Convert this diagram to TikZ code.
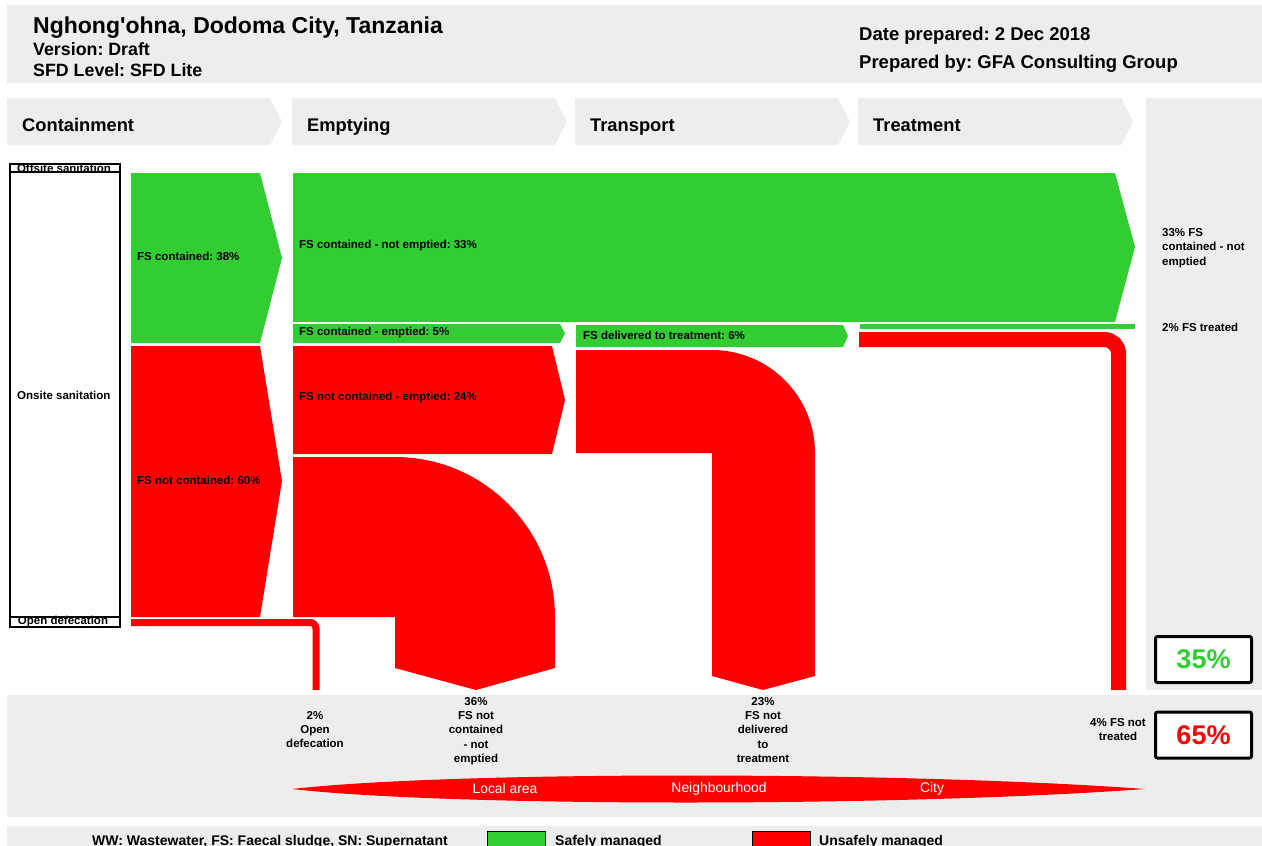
\documentclass[tikz,border=0pt]{standalone}
\usepackage{fontspec}
\setmainfont{Liberation Sans}
\usetikzlibrary{positioning}
\definecolor{sfdgreen}{RGB}{50,205,50}
\definecolor{sfdred}{RGB}{255,0,0}
\definecolor{sfdgray}{RGB}{237,237,237}
\frenchspacing

\begin{document}
\begin{tikzpicture}[
                x=1pt, y=-1pt,
                lbl/.style={font=\fontsize{11.5}{14.3}\selectfont\bfseries, inner sep=0pt},
                flowlbl/.style={lbl, anchor=west},
                head/.style={font=\fontsize{18.5}{21}\selectfont\bfseries, inner sep=0pt, anchor=base west},
                stagelbl/.style={head, font=\fontsize{18.3}{21}\selectfont\bfseries},
                band/.style={fill=sfdgray},
                srcbox/.style={draw=black, line width=1.2pt},
                total/.style={draw=black, line width=3pt, rounded corners=2pt, fill=white, minimum width=96pt, minimum height=46pt, inner sep=0pt, font=\fontsize{27}{30}\selectfont\bfseries},
                place/.style={text=white, inner sep=0pt, font=\fontsize{13.9}{16}\selectfont},
                legend/.style={lbl, font=\fontsize{14}{16}\selectfont\bfseries},
            ]
            \useasboundingbox (0,0) rectangle (1262,846);

            % header
            \fill[band] (7,5) rectangle (1262,83);
            \node[head, font=\fontsize{23}{26}\selectfont\bfseries] (title) at (33,33) {Nghong\textquotesingle ohna, Dodoma City, Tanzania};
            \node[head, font=\fontsize{17.8}{20}\selectfont\bfseries] (ver) at (33,55) {Version: Draft};
            \node[head, font=\fontsize{17.8}{20}\selectfont\bfseries] (lvl) at (33,76) {SFD Level: SFD Lite};
            \node[head] (date) at (859,40) {Date prepared: 2 Dec 2018};
            \node[head] (prep) at (859,68) {Prepared by: GFA Consulting Group};

            % stages
            \foreach \x/\stagename [count=\i] in {7/Containment,292/Emptying,575/Transport,858/Treatment} {
                \fill[band] (\x,98) -- ++(263,0) -- ++(12,23.5) -- ++(-12,23.5) -- ++(-263,0) -- cycle;
                \node[stagelbl] (stage\i) at (\x+15,131) {\stagename};
            }
            \fill[band] (1146,98) rectangle (1262,690);
            \fill[band] (7,695) rectangle (1262,817);
            \fill[band] (7,826) rectangle (1262,846);

            % sources
            \draw[srcbox] (10,164) rectangle (120,172);
            \draw[srcbox] (10,172) rectangle (120,617);
            \draw[srcbox] (10,617) rectangle (120,627);
            \node[lbl] (offs) at (64,168) {Offsite sanitation};
            \node[lbl, anchor=west] (onsite) at (17,395) {Onsite sanitation};
            \node[lbl] (opendef) at (63,622) {Open defecation};

            % containment
            \fill[sfdgreen] (131,173) -- (260,173) -- (282,258) -- (260,343) -- (131,343) -- cycle;
            \fill[sfdred] (131,346) -- (260,346) -- (282,481) -- (260,617) -- (131,617) -- cycle;
            \node[flowlbl] (contd) at (137,256) {FS contained: 38\%};
            \node[flowlbl] (ncontd) at (137,480) {FS not contained: 60\%};
            \draw[sfdred, line width=7pt, rounded corners=6pt] (131,622.5) -- (316,622.5) -- (316,690);

            % emptying
            \fill[sfdgreen] (293,173) -- (1115,173) -- (1135,247) -- (1115,322) -- (293,322) -- cycle;
            \fill[sfdgreen] (293,324) -- (560,324) -- (565,333.5) -- (560,343) -- (293,343) -- cycle;
            \fill[sfdred] (293,346) -- (552,346) -- (565,400) -- (552,454) -- (293,454) -- cycle;
            \fill[sfdred] (293,457) -- (395,457) arc[start angle=-90, end angle=0, radius=160]
                -- (555,668) -- (476,690) -- (395,668) -- (395,617) -- (293,617) -- cycle;
            \node[flowlbl] (notemp) at (299,246) {FS contained - not emptied: 33\%};
            \node[flowlbl] (emp) at (299,333) {FS contained - emptied: 5\%};
            \node[flowlbl] (nemp) at (299,398) {FS not contained - emptied: 24\%};

            % transport
            \fill[sfdgreen] (576,325) -- (843,325) -- (848,336) -- (843,347) -- (576,347) -- cycle;
            \fill[sfdred] (576,350) -- (712,350) arc[start angle=-90, end angle=0, radius=103]
                -- (815,676) -- (763,690) -- (712,676) -- (712,453) -- (576,453) -- cycle;
            \node[flowlbl] (deliv) at (583,335) {FS delivered to treatment: 6\%};

            % treatment
            \fill[sfdgreen] (860,324) rectangle (1135,329);
            \draw[sfdred, line width=15pt, rounded corners=14pt] (859,339.5) -- (1118.5,339.5) -- (1118.5,690);

            % outcomes
            \node[lbl, align=left, anchor=west] (notempout) at (1162,248) {33\% FS\\contained - not\\emptied};
            \node[lbl, anchor=west] (treated) at (1162,327) {2\% FS treated};
            \node[total, text=sfdgreen] (safe) at (1203.5,659.5) {35\%};
            \node[total, text=sfdred] (unsafe) at (1203.5,735) {65\%};
            \node[lbl, align=center, anchor=north] (odout) at (315,711) {2\%\\Open\\defecation};
            \node[lbl, align=center, anchor=north] (ncout) at (476,697) {36\%\\FS not\\contained\\- not\\emptied};
            \node[lbl, align=center, anchor=north] (ndout) at (763,697) {23\%\\FS not\\delivered\\to\\treatment};
            \node[lbl, align=center, anchor=north] (ntout) at (1118,718) {4\% FS not\\treated};

            % extent of pollution
            \fill[sfdred] (292,789) .. controls (450,771) and (900,771) .. (1145,789)
                .. controls (900,807) and (450,807) .. (292,789) -- cycle;
            \node[place] (local) at (505,789) {Local area};
            \node[place] (neigh) at (719,789) {Neighbourhood};
            \node[place] (city) at (932,789) {City};

            % legend
            \node[legend, anchor=base] (abbr) at (270,845) {WW: Wastewater, FS: Faecal sludge, SN: Supernatant};
            \draw[fill=sfdgreen, line width=1pt] (487,831) rectangle (545,850);
            \node[legend, anchor=base west] (safelbl) at (555,845) {Safely managed};
            \draw[fill=sfdred, line width=1pt] (752,831) rectangle (810,850);
            \node[legend, anchor=base west] (unsafelbl) at (819,845) {Unsafely managed};
        \end{tikzpicture}
\end{document}
